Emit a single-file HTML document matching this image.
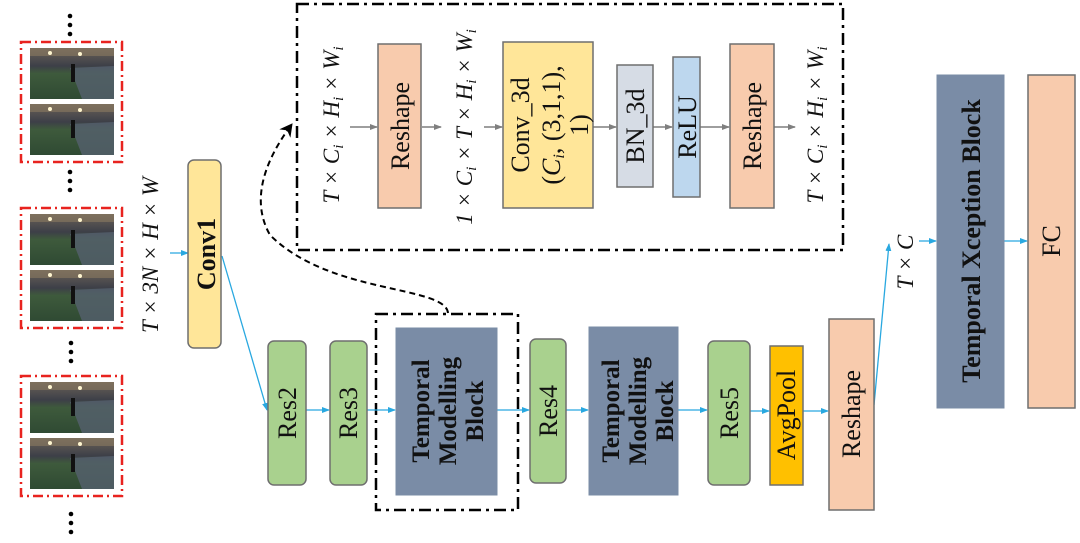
<!DOCTYPE html>
<html><head><meta charset="utf-8"><style>
html,body{margin:0;padding:0;background:#fff;}
svg{display:block;font-family:"Liberation Serif","DejaVu Serif",serif;}
</style></head><body>
<svg width="1080" height="543" viewBox="0 0 1080 543" xmlns="http://www.w3.org/2000/svg">
<defs>
<marker id="ab" markerWidth="8" markerHeight="8" refX="7" refY="4" orient="auto" markerUnits="userSpaceOnUse"><path d="M0,1 L8,4 L0,7 z" fill="#29a8e0"/></marker>
<marker id="ag" markerWidth="8" markerHeight="8" refX="7" refY="4" orient="auto" markerUnits="userSpaceOnUse"><path d="M0,1 L8,4 L0,7 z" fill="#7f7f7f"/></marker>
<marker id="ak" markerWidth="14" markerHeight="14" refX="12" refY="7" orient="auto" markerUnits="userSpaceOnUse"><path d="M0,0 L13,7 L0,14 L4,7 z" fill="#000"/></marker>
<linearGradient id="ph" x1="0" y1="0" x2="0" y2="1">
<stop offset="0" stop-color="#6b6258"/><stop offset="0.35" stop-color="#3d3f48"/><stop offset="0.5" stop-color="#3e5a3c"/><stop offset="1" stop-color="#2f4a33"/></linearGradient>
<g id="photo">
<rect x="0" y="0" width="84" height="51" fill="url(#ph)"/>
<polygon points="40,20 84,18 84,51 52,51" fill="#55606e" opacity="0.8"/>
<rect x="0" y="0" width="84" height="8" fill="#8a7a60" opacity="0.6"/>
<circle cx="20" cy="5" r="2" fill="#fff6d0"/><circle cx="50" cy="6" r="2" fill="#fff6d0"/>
<rect x="41" y="16" width="4" height="18" fill="#111"/>
</g>
<g id="frame">
<rect x="21" y="0" width="101" height="120" fill="none" stroke="#e8231f" stroke-width="2.5" stroke-dasharray="10,4,2,4"/>
<use href="#photo" x="30" y="6"/>
<use href="#photo" x="30" y="62"/>
</g>
</defs>

<g fill="#000">
<circle cx="70" cy="16" r="2.3"/><circle cx="70" cy="25" r="2.3"/><circle cx="70" cy="34" r="2.3"/>
<circle cx="70" cy="172" r="2.3"/><circle cx="70" cy="181" r="2.3"/><circle cx="70" cy="190" r="2.3"/>
<circle cx="71" cy="343" r="2.3"/><circle cx="71" cy="352" r="2.3"/><circle cx="71" cy="361" r="2.3"/>
<circle cx="71" cy="514" r="2.3"/><circle cx="71" cy="523" r="2.3"/><circle cx="71" cy="532" r="2.3"/>
</g>
<use href="#frame" x="0" y="42"/>
<use href="#frame" x="0" y="208"/>
<use href="#frame" x="0" y="376"/>

<rect x="297" y="4" width="546" height="246" fill="none" stroke="#000" stroke-width="2.5" stroke-dasharray="12,5,3,5"/>
<rect x="376" y="314" width="142" height="196" fill="none" stroke="#000" stroke-width="2.5" stroke-dasharray="12,5,3,5"/>

<path d="M448,313 C445,285 330,295 270,235 C250,200 265,160 292,124" fill="none" stroke="#000" stroke-width="2" stroke-dasharray="6,4" marker-end="url(#ak)"/>

<g stroke="#29a8e0" stroke-width="1.3" fill="none">
<line x1="170" y1="253" x2="188" y2="253" marker-end="url(#ab)"/>
<line x1="222" y1="256" x2="267" y2="410" marker-end="url(#ab)"/>
<line x1="306" y1="410" x2="329" y2="410" marker-end="url(#ab)"/>
<line x1="367" y1="410" x2="395" y2="410" marker-end="url(#ab)"/>
<line x1="497" y1="410" x2="529" y2="410" marker-end="url(#ab)"/>
<line x1="566" y1="410" x2="588" y2="410" marker-end="url(#ab)"/>
<line x1="678" y1="410" x2="707" y2="410" marker-end="url(#ab)"/>
<line x1="750" y1="411" x2="769" y2="411" marker-end="url(#ab)"/>
<line x1="803" y1="411" x2="828" y2="411" marker-end="url(#ab)"/>
<line x1="874" y1="405" x2="889" y2="244" marker-end="url(#ab)"/>
<line x1="919" y1="241" x2="936" y2="241" marker-end="url(#ab)"/>
<line x1="1004" y1="241" x2="1027" y2="241" marker-end="url(#ab)"/>
</g>
<g stroke="#7f7f7f" stroke-width="1.5" fill="none">
<line x1="350" y1="127" x2="377" y2="127" marker-end="url(#ag)"/>
<line x1="422" y1="127" x2="441" y2="127" marker-end="url(#ag)"/>
<line x1="484" y1="127" x2="502" y2="127" marker-end="url(#ag)"/>
<line x1="593" y1="127" x2="616" y2="127" marker-end="url(#ag)"/>
<line x1="653" y1="127" x2="672" y2="127" marker-end="url(#ag)"/>
<line x1="700" y1="127" x2="729" y2="127" marker-end="url(#ag)"/>
<line x1="774" y1="127" x2="795" y2="127" marker-end="url(#ag)"/>
</g>

<g stroke="#6f6f6f" stroke-width="1.5">
<rect x="188" y="160" width="33" height="188" rx="6" fill="#ffe699"/>
<rect x="268" y="341" width="38" height="144" rx="6" fill="#a9d18e"/>
<rect x="330" y="341" width="37" height="144" rx="6" fill="#a9d18e"/>
<rect x="530" y="339" width="36" height="144" rx="6" fill="#a9d18e"/>
<rect x="708" y="341" width="42" height="144" rx="6" fill="#a9d18e"/>
<rect x="770" y="346" width="33" height="139" fill="#ffc000"/>
<rect x="829" y="319" width="45" height="191" fill="#f8cbad"/>
<rect x="1028" y="75" width="47" height="333" fill="#f8cbad"/>
<rect x="378" y="44" width="43" height="164" fill="#f8cbad"/>
<rect x="503" y="42" width="90" height="166" fill="#ffe699"/>
<rect x="617" y="65" width="36" height="122" fill="#d6dce5"/>
<rect x="673" y="57" width="27" height="140" fill="#bdd7ee"/>
<rect x="730" y="44" width="44" height="164" fill="#f8cbad"/>
</g>
<g fill="#7a8ca6" stroke="#7a8ca6">
<rect x="396" y="328" width="101" height="167"/>
<rect x="589" y="327" width="89" height="168"/>
<rect x="937" y="75" width="67" height="333"/>
</g>

<g font-size="26" fill="#111" text-anchor="middle">
<text transform="translate(215,254) rotate(-90)" font-weight="bold">Conv1</text>
<text transform="translate(296,413) rotate(-90)">Res2</text>
<text transform="translate(357,413) rotate(-90)">Res3</text>
<text transform="translate(557,411) rotate(-90)">Res4</text>
<text transform="translate(738,413) rotate(-90)">Res5</text>
<text transform="translate(795,415) rotate(-90)">AvgPool</text>
<text transform="translate(860,414) rotate(-90)">Reshape</text>
<text transform="translate(1060,241) rotate(-90)">FC</text>
<text transform="translate(409,126) rotate(-90)">Reshape</text>
<text transform="translate(761,126) rotate(-90)">Reshape</text>
<text transform="translate(644,126) rotate(-90)">BN_3d</text>
<text transform="translate(696,127) rotate(-90)">ReLU</text>
<text transform="translate(529,125) rotate(-90)">Conv_3d</text>
<text transform="translate(560,125) rotate(-90)">(<tspan font-style="italic">C<tspan font-size="16" dy="4">i</tspan></tspan><tspan dy="-4">, (3,1,1),</tspan></text>
<text transform="translate(588,125) rotate(-90)">1)</text>
<g font-weight="bold" font-size="25">
<text transform="translate(429,411) rotate(-90)">Temporal</text>
<text transform="translate(456,411) rotate(-90)">Modelling</text>
<text transform="translate(483,411) rotate(-90)">Block</text>
<text transform="translate(619,411) rotate(-90)">Temporal</text>
<text transform="translate(646,411) rotate(-90)">Modelling</text>
<text transform="translate(673,411) rotate(-90)">Block</text>
<text transform="translate(980,241) rotate(-90)" font-size="26">Temporal Xception Block</text>
</g>
<g font-style="italic" font-size="23">
<text transform="translate(158,255) rotate(-90)">T × 3N × H × W</text>
<text transform="translate(339,125) rotate(-90)">T × C<tspan font-size="15" dy="4">i</tspan><tspan dy="-4"> × H</tspan><tspan font-size="15" dy="4">i</tspan><tspan dy="-4"> × W</tspan><tspan font-size="15" dy="4">i</tspan></text>
<text transform="translate(472,127) rotate(-90)">1 × C<tspan font-size="15" dy="4">i</tspan><tspan dy="-4"> × T × H</tspan><tspan font-size="15" dy="4">i</tspan><tspan dy="-4"> × W</tspan><tspan font-size="15" dy="4">i</tspan></text>
<text transform="translate(823,125) rotate(-90)">T × C<tspan font-size="15" dy="4">i</tspan><tspan dy="-4"> × H</tspan><tspan font-size="15" dy="4">i</tspan><tspan dy="-4"> × W</tspan><tspan font-size="15" dy="4">i</tspan></text>
<text transform="translate(913,262) rotate(-90)">T × C</text>
</g>
</g>
</svg>
</body></html>
